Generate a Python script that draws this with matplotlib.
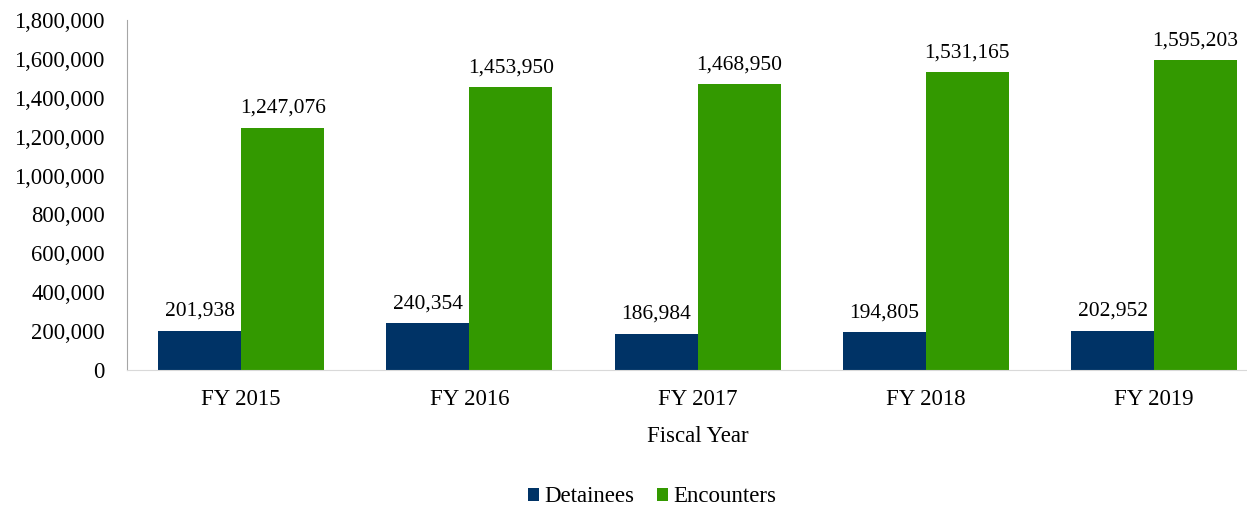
import matplotlib
matplotlib.use("Agg")
import matplotlib.pyplot as plt
import numpy as np
from matplotlib.ticker import FuncFormatter

categories = ["FY 2015", "FY 2016", "FY 2017", "FY 2018", "FY 2019"]
detainees = [201938, 240354, 186984, 194805, 202952]
encounters = [1247076, 1453950, 1468950, 1531165, 1595203]
series_names = ["Detainees", "Encounters"]

plt.rcParams['font.family'] = ['Liberation Serif', 'DejaVu Serif']

W, H = 1247, 508
step = 228.25
fig = plt.figure(figsize=(W / 100, H / 100), dpi=100)
ax = fig.add_axes([127 / W, 1 - 370 / H, 5 * step / W, (370 - 20) / H])

x = np.arange(len(categories))
bw = 0.364
navy = "#003366"
green = "#339900"
b1 = ax.bar(x - bw / 2, detainees, bw, color=navy, label=series_names[0])
b2 = ax.bar(x + bw / 2, encounters, bw, color=green, label=series_names[1])

for bars, vals in ((b1, detainees), (b2, encounters)):
    for rect, v in zip(bars, vals):
        ax.annotate(f"{v:,}", (rect.get_x() + rect.get_width() / 2, rect.get_height()),
                    xytext=(0, 7), textcoords="offset points",
                    ha="center", va="bottom", fontsize=15.5, color="#000000")

ax.set_ylim(0, 1800000)
ax.set_yticks(np.arange(0, 1800001, 200000))
ax.yaxis.set_major_formatter(FuncFormatter(lambda v, p: f"{int(v):,}"))
ax.set_xlim(-0.5, 4.5)
ax.set_xticks(x)
ax.set_xticklabels(categories)
ax.tick_params(axis="y", length=0, pad=16, labelsize=16.3)
ax.tick_params(axis="x", length=0, pad=14, labelsize=16.5)
ax.set_xlabel("Fiscal Year", fontsize=16.5, labelpad=11)

for s in ("top", "right"):
    ax.spines[s].set_visible(False)
ax.spines["left"].set_color("#a6a6a6")
ax.spines["bottom"].set_color("#d9d9d9")

fig.legend(handles=[b1, b2], labels=series_names, loc="center",
           bbox_to_anchor=(652 / W, 1 - 497 / H), ncol=2, frameon=False,
           fontsize=16.5, handlelength=0.48, handleheight=0.48,
           handletextpad=0.22, columnspacing=1.0)

fig.savefig("out.png", dpi=100)
